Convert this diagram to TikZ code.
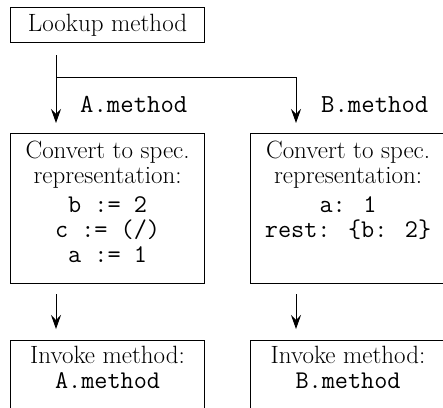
\documentclass[tikz,border=0pt]{standalone}
\usepackage{fontspec}
\usetikzlibrary{arrows.meta}
\newcommand{\toprule}{\rule{0pt}{18pt}}
\newcommand{\mono}[1]{{\fontsize{25.5}{25}\selectfont\ttfamily #1}}
\begin{document}
\begin{tikzpicture}[x=1pt,y=-1pt,
  font=\fontsize{25}{25}\selectfont,
  boxstyle/.style={draw, line width=1.1pt, rectangle, inner sep=0pt, anchor=north west},
  txtstyle/.style={inner sep=0pt, align=center, anchor=north},
  labstyle/.style={inner sep=0pt, anchor=base west, font=\fontsize{26}{25}\selectfont\ttfamily},
  arr/.style={line width=1pt, -{Stealth[length=14pt,width=10pt,inset=5pt]}}]
\useasboundingbox (0,0) rectangle (443,407);
\clip (0,0) rectangle (443,407);
% top box
\node[boxstyle, minimum width=194pt, minimum height=35pt] (lookup) at (10,7) {};
\node[txtstyle] (lookuptxt) at ([yshift=-6pt]lookup.north) {\toprule Lookup method};
% convert boxes
\node[boxstyle, minimum width=194pt, minimum height=150pt] (convA) at (10,133) {};
\node[boxstyle, minimum width=195pt, minimum height=150pt] (convB) at (250,133) {};
\node[txtstyle] (convAtxt) at ([yshift=-7pt]convA.north)
  {\toprule Convert to spec.\\ representation:\\[4pt] \mono{b := 2}\\ \mono{c := (/)}\\ \mono{a := 1}};
\node[txtstyle] (convBtxt) at ([yshift=-7pt]convB.north)
  {\toprule Convert to spec.\\ representation:\\[4pt] \mono{a: 1}\\ \mono{rest: \{b: 2\}}};
% invoke boxes
\node[boxstyle, minimum width=194pt, minimum height=90pt] (invA) at (10,340) {};
\node[boxstyle, minimum width=195pt, minimum height=90pt] (invB) at (250,340) {};
\node[txtstyle] (invAtxt) at ([yshift=-5pt]invA.north)
  {\toprule Invoke method:\\ \mono{A.method}};
\node[txtstyle] (invBtxt) at ([yshift=-5pt]invB.north)
  {\toprule Invoke method:\\ \mono{B.method}};
% connectors
\coordinate (fork) at (56,77);
\coordinate (forkB) at (296,77);
\draw[arr, shorten <=12pt, shorten >=10pt] (fork |- lookup.south) -- (fork |- convA.north);
\draw[arr, shorten >=10pt] (fork) -- (forkB) -- (forkB |- convB.north);
\draw[arr, shorten <=10pt, shorten >=11pt] (fork |- convA.south) -- (fork |- invA.north);
\draw[arr, shorten <=10pt, shorten >=11pt] (forkB |- convB.south) -- (forkB |- invB.north);
% labels
\node[labstyle] (labA) at (80,112) {A.method};
\node[labstyle] (labB) at (321,112) {B.method};
\end{tikzpicture}
\end{document}
